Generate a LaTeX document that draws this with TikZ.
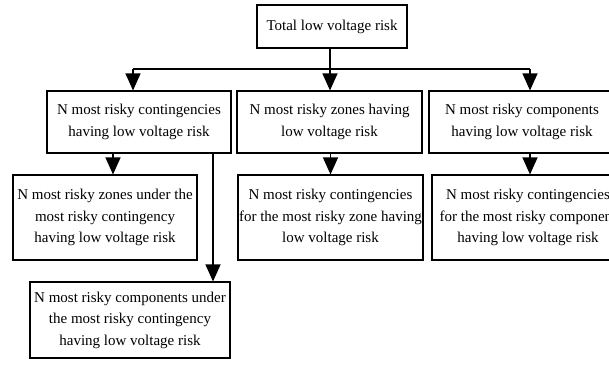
\documentclass[tikz,border=0pt]{standalone}
\usepackage{fontspec}
\setmainfont{Liberation Serif}
\usetikzlibrary{arrows.meta}
\begin{document}
\begin{tikzpicture}[x=1pt,y=-1pt,
  box/.style={draw,line width=1.1pt,align=center,inner sep=0pt,
    font=\fontsize{15}{21.5}\selectfont},
  link/.style={line width=1.2pt},
  arr/.style={line width=1.2pt,-{Triangle[length=17pt,width=15pt]}}]
\useasboundingbox (0,0) rectangle (609,369);
\clip (0,0) rectangle (609,369);
\node[box,minimum width=150pt,minimum height=43pt] (T) at (332,26.5) {Total low voltage risk};
\node[box,minimum width=184pt,minimum height=62pt] (A) at (139,122) {N most risky contingencies\\having low voltage risk};
\node[box,minimum width=185pt,minimum height=62pt] (B) at (329.5,122) {N most risky zones having\\low voltage risk};
\node[box,minimum width=186pt,minimum height=62pt] (C) at (522,122) {N most risky components\\having low voltage risk};
\node[box,minimum width=184pt,minimum height=85pt] (D) at (105,217.5) {N most risky zones under the\\most risky contingency\\having low voltage risk};
\node[box,minimum width=185pt,minimum height=85pt] (E) at (330.5,217.5) {N most risky contingencies\\for the most risky zone having\\low voltage risk};
\node[box,minimum width=192pt,minimum height=85pt] (F) at (528,217.5) {N most risky contingencies\\for the most risky component\\having low voltage risk};
\node[box,minimum width=200pt,minimum height=76pt] (G) at (130,320) {N most risky components under\\the most risky contingency\\having low voltage risk};
\coordinate (bus) at (0,69);
\coordinate (bl) at ([xshift=-6pt]A.north |- bus);
\coordinate (br) at (530,69);
\draw[link] ([xshift=-2pt]T.south) -- ([xshift=-2pt]T.south |- bus);
\draw[link] (bl) -- (br);
\draw[arr] (bl) -- ([xshift=-6pt]A.north);
\draw[arr] ([xshift=-2pt]T.south |- bus) -- ([xshift=-2pt]T.south |- B.north);
\draw[arr] (br) -- (br |- C.north);
\draw[arr] ([xshift=-26pt]A.south) -- ([xshift=-26pt]A.south |- D.north);
\draw[arr] (E.north |- B.south) -- (E.north);
\draw[arr] (br |- C.south) -- (br |- F.north);
\coordinate (gl) at ([xshift=74pt]A.south);
\draw[arr] (gl) -- (gl |- G.north);
\end{tikzpicture}
\end{document}
